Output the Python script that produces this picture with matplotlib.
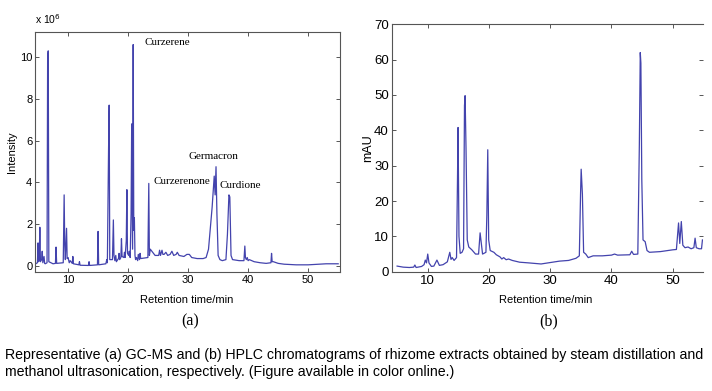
import matplotlib
matplotlib.use("Agg")
import matplotlib.pyplot as plt

# GC-MS trace (a), intensity in units of 1e6
gc_time = [4.6, 4.9, 5.0, 5.1, 5.2, 5.3, 5.4, 5.6, 5.7, 5.8, 6.0, 6.1, 6.2, 6.5,
           6.6, 6.7, 6.8, 7.5, 7.9, 8.0, 8.1, 9.2, 9.35, 9.45, 9.55, 9.75, 9.85,
           10.0, 10.2, 10.35, 10.7, 10.8, 10.9, 11.8, 11.9, 12.0, 13.4, 13.5, 13.6,
           14.9, 15.0, 15.1, 16.3, 16.45, 16.55, 16.75, 16.85, 16.95, 17.4, 17.55,
           17.65, 17.8, 17.95, 18.05, 18.4, 18.5, 18.6, 18.8, 18.9, 19.0, 19.3, 19.4,
           19.5, 19.7, 19.8, 19.9, 20.1, 20.2, 20.35, 20.5, 20.6, 20.75, 20.85, 20.95,
           21.05, 21.15, 21.25, 21.4, 21.6, 21.7, 21.9, 22.0, 22.1, 23.3, 23.45, 23.55,
           23.7, 24.5, 25.1, 25.25, 25.4, 25.65, 25.8, 26.0, 26.3, 26.6, 27.0, 27.3,
           27.6, 28.0, 28.2, 28.5, 29.3, 29.8, 30.2, 30.6, 31.5, 32.5, 33.0, 33.4,
           34.0, 34.35, 34.5, 34.65, 34.8, 35.0, 35.3, 35.7, 36.3, 36.55, 36.8, 36.95,
           37.15, 37.4, 38.5, 39.3, 39.45, 39.55, 39.7, 39.85, 40.0, 40.2, 41.0, 42.0,
           43.0, 43.8, 43.9, 44.0, 44.2, 45.0, 46.0, 48.0, 50.0, 52.0, 53.0, 55.0]
gc_signal = [0.1, 0.15, 1.1, 0.2, 0.3, 1.85, 0.2, 0.3, 0.7, 0.15, 0.45, 0.12, 0.1, 0.15,
             10.0, 10.3, 0.2, 0.1, 0.12, 0.9, 0.12, 0.15, 3.4, 1.0, 0.3, 1.8, 0.35,
             0.4, 0.15, 0.25, 0.12, 0.45, 0.1, 0.05, 0.2, 0.03, 0.02, 0.2, 0.02,
             0.05, 1.65, 0.05, 0.1, 0.3, 0.15, 5.6, 7.7, 0.3, 0.3, 2.2,
             0.5, 0.25, 0.5, 0.2, 0.35, 0.6, 0.3, 0.4, 1.3, 0.45, 0.4, 0.65,
             0.4, 1.2, 3.65, 0.6, 0.5, 0.7, 0.4, 2.5, 6.8, 0.8, 10.6, 1.7,
             2.3, 0.5, 0.3, 0.4, 0.25, 0.55, 0.3, 0.6, 0.35, 0.4, 3.95, 0.5,
             0.8, 0.5, 0.5, 0.75, 0.5, 0.75, 0.55, 0.55, 0.65, 0.5, 0.55, 0.7,
             0.5, 0.55, 0.65, 0.5, 0.45, 0.55, 0.55, 0.4, 0.35, 0.35, 0.4, 0.8,
             2.8, 4.3, 3.4, 4.75, 2.5, 0.5, 0.3, 0.25, 0.3, 1.5, 3.4, 3.3,
             0.5, 0.3, 0.25, 0.25, 0.95, 0.4, 0.3, 0.4, 0.25, 0.3, 0.2, 0.15,
             0.12, 0.15, 0.6, 0.2, 0.2, 0.12, 0.08, 0.05, 0.05, 0.08, 0.1, 0.1]

# HPLC trace (b), mAU
lc_time = [5.0, 6.0, 7.0, 7.7, 7.9, 8.1, 9.0, 9.4, 9.6, 9.8, 10.0, 10.2, 10.6, 11.0,
           11.5, 11.9, 12.5, 13.2, 13.6, 13.8, 14.0, 14.3, 14.7, 14.85, 14.95, 15.1,
           15.3, 15.6, 15.85, 16.0, 16.1, 16.25, 16.45, 16.7, 17.2, 17.8, 18.3, 18.55,
           18.75, 18.95, 19.5, 19.65, 19.8, 19.95, 20.2, 20.8, 21.2, 21.8, 22.1, 22.4,
           22.8, 23.2, 23.8, 25.0, 26.5, 28.5, 30.0, 31.5, 33.0, 34.2, 34.75, 34.95,
           35.05, 35.25, 35.45, 35.8, 36.2, 37.0, 38.5, 40.0, 40.5, 41.0, 43.0, 43.3,
           43.6, 44.3, 44.55, 44.7, 44.8, 44.95, 45.15, 45.5, 45.8, 46.2, 48.0, 50.0,
           50.6, 50.95, 51.15, 51.4, 51.65, 52.0, 52.5, 53.0, 53.45, 53.65, 53.85, 54.3,
           54.7, 54.85]
lc_signal = [1.6, 1.3, 1.2, 1.3, 1.9, 1.2, 1.5, 2.0, 3.3, 2.5, 5.0, 2.5, 1.5, 1.6,
             3.3, 1.8, 2.0, 2.8, 5.5, 3.5, 4.0, 3.2, 4.0, 25.0, 40.8, 10.0,
             5.2, 5.5, 6.5, 47.0, 49.8, 35.0, 9.0, 7.0, 6.2, 5.0, 5.0, 11.0,
             8.0, 5.0, 5.5, 16.0, 34.5, 9.0, 6.0, 5.5, 4.8, 4.2, 3.6, 4.0,
             3.4, 3.6, 3.2, 2.7, 2.5, 2.2, 2.6, 3.0, 3.2, 3.8, 4.5, 22.0,
             29.0, 22.0, 5.5, 5.0, 4.0, 4.5, 4.5, 4.7, 5.0, 4.7, 4.8, 5.8,
             4.9, 5.0, 36.0, 62.0, 59.0, 26.0, 9.0, 8.5, 6.0, 5.5, 5.7, 6.2,
             6.3, 13.8, 8.0, 14.2, 7.5, 6.8, 7.0, 6.5, 6.8, 9.5, 6.8, 6.5,
             6.5, 9.0]

peak_names = ["Curzerene", "Curzerenone", "Germacron", "Curdione"]
peak_label_pos = [(22.8, 10.7), (24.3, 4.05), (30.0, 5.25), (35.2, 3.85)]

caption = ("Representative (a) GC-MS and (b) HPLC chromatograms of rhizome extracts obtained by steam distillation and\n"
           "methanol ultrasonication, respectively. (Figure available in color online.)")

line_color = "#4343ad"
spine_color = "#555555"
sans = "Liberation Sans"

fig = plt.figure(figsize=(7.12, 3.91), dpi=100)

# (a) GC-MS
ax1 = fig.add_axes([0.0492, 0.304, 0.4283, 0.614])
ax1.plot(gc_time, gc_signal, color=line_color, lw=0.9)
ax1.set_xlim(4.5, 55.3)
ax1.set_ylim(-0.3, 11.2)
ax1.set_xticks([10, 20, 30, 40, 50])
ax1.set_yticks([0, 2, 4, 6, 8, 10])
ax1.tick_params(direction="in", length=3, width=0.7, color=spine_color,
                top=True, right=True, labelsize=8, pad=2)
for s in ax1.spines.values():
    s.set_color(spine_color)
    s.set_linewidth(0.8)
ax1.text(0.0, 1.025, r"x 10$^{6}$", transform=ax1.transAxes, fontsize=7.5,
         family=sans, ha="left", va="bottom")
ax1.set_ylabel("Intensity", fontsize=8, family=sans, labelpad=2)
for name, (px, py) in zip(peak_names, peak_label_pos):
    ax1.text(px, py, name, fontsize=8, family="Liberation Serif",
             ha="left", va="center", color="black")

# (b) HPLC
ax2 = fig.add_axes([0.550, 0.305, 0.437, 0.633])
ax2.plot(lc_time, lc_signal, color=line_color, lw=0.9)
ax2.set_xlim(4.1, 54.9)
ax2.set_ylim(0, 70)
ax2.set_xticks([10, 20, 30, 40, 50])
ax2.set_yticks([0, 10, 20, 30, 40, 50, 60, 70])
ax2.tick_params(direction="in", length=3, width=0.7, color=spine_color,
                top=True, right=True, labelsize=9.5, pad=2)
ax2.spines["right"].set_visible(False)
for s in ["left", "top", "bottom"]:
    ax2.spines[s].set_color(spine_color)
    ax2.spines[s].set_linewidth(0.8)
ax2.set_ylabel("mAU", fontsize=9, family=sans, labelpad=0)

for ax in (ax1, ax2):
    for lab in ax.get_xticklabels() + ax.get_yticklabels():
        lab.set_family(sans)

# x labels and panel letters
fig.text(0.262, 1 - 300 / 391, "Retention time/min", fontsize=8, family=sans,
         ha="center", va="center")
fig.text(0.766, 1 - 300 / 391, "Retention time/min", fontsize=8, family=sans,
         ha="center", va="center")
fig.text(0.267, 1 - 321 / 391, "(a)", fontsize=11.5, family="Liberation Serif",
         ha="center", va="center")
fig.text(0.770, 1 - 321 / 391, "(b)", fontsize=11.5, family="Liberation Serif",
         ha="center", va="center")
fig.text(0.007, 1 - 348 / 391, caption, fontsize=10.2, family=sans,
         ha="left", va="top", linespacing=1.25)

fig.savefig("out.png", dpi=100, facecolor="white")
